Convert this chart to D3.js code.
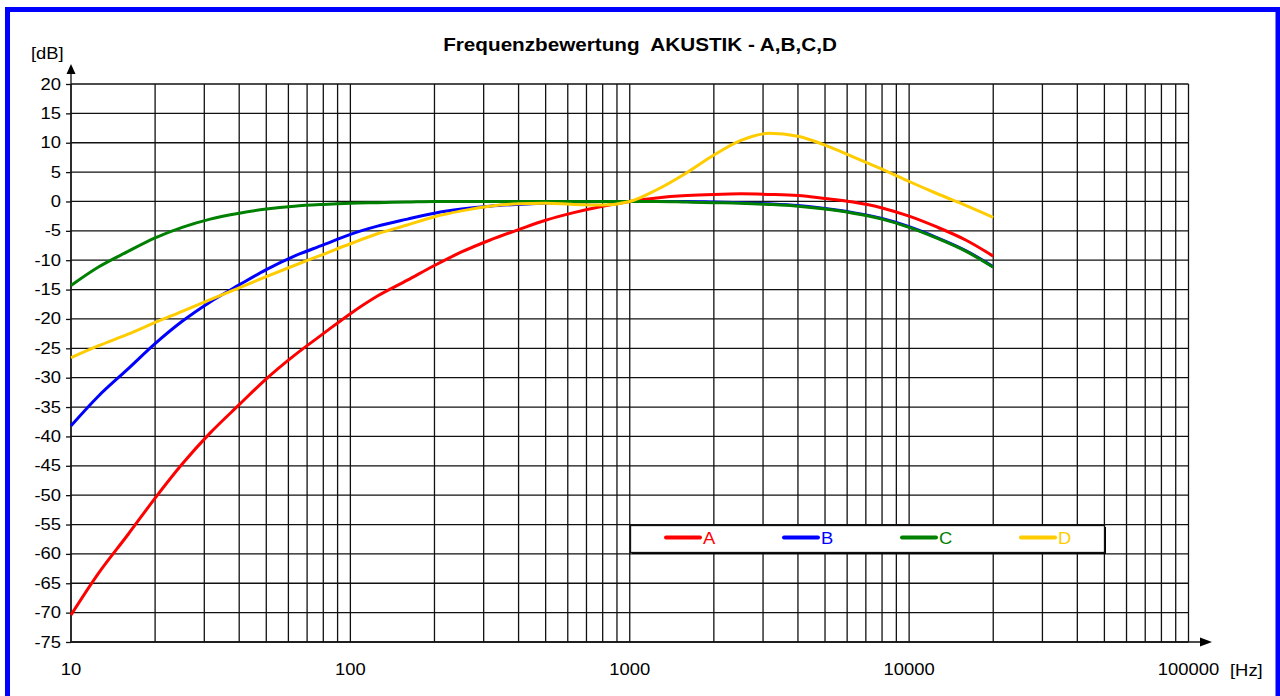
<!DOCTYPE html>
<html>
<head>
<meta charset="utf-8">
<script src="https://cdn.jsdelivr.net/npm/d3@7"></script>
<style>
  body { margin: 0; background: #fff; }
  svg { display: block; font-family: "Liberation Sans", Arial, sans-serif; }
</style>
</head>
<body>
<div id="chart"></div>
<script>
// frequencies (Hz), third-octave bands
var freqs = [10, 12.5, 16, 20, 25, 31.5, 40, 50, 63, 80, 100, 125, 160, 200, 250, 315, 400, 500, 630, 800,
  1000, 1250, 1600, 2000, 2500, 3150, 4000, 5000, 6300, 8000, 10000, 12500, 16000, 20000];

var seriesA = [-70.4, -63.4, -56.7, -50.5, -44.7, -39.4, -34.6, -30.2, -26.2, -22.5, -19.1, -16.1, -13.4, -10.9, -8.6, -6.6, -4.8, -3.2, -1.9, -0.8,
  0, 0.6, 1.0, 1.2, 1.3, 1.2, 1.0, 0.5, -0.1, -1.1, -2.5, -4.3, -6.6, -9.3];
var seriesB = [-38.2, -33.2, -28.5, -24.2, -20.4, -17.1, -14.2, -11.6, -9.3, -7.4, -5.6, -4.2, -3.0, -2.0, -1.3, -0.8, -0.5, -0.3, -0.1, 0,
  0, 0, 0, -0.1, -0.2, -0.4, -0.7, -1.2, -1.9, -2.9, -4.3, -6.1, -8.4, -11.1];
var seriesC = [-14.3, -11.2, -8.5, -6.2, -4.4, -3.0, -2.0, -1.3, -0.8, -0.5, -0.3, -0.2, -0.1, 0, 0, 0, 0, 0, 0, 0,
  0, 0, -0.1, -0.2, -0.3, -0.5, -0.8, -1.3, -2.0, -3.0, -4.4, -6.2, -8.5, -11.2];
var seriesD = [-26.6, -24.6, -22.6, -20.6, -18.7, -16.7, -14.7, -12.8, -10.9, -9.0, -7.2, -5.5, -4.0, -2.6, -1.6, -0.8, -0.4, -0.3, -0.5, -0.6,
  0, 2.0, 4.9, 7.9, 10.4, 11.6, 11.1, 9.6, 7.6, 5.5, 3.4, 1.4, -0.7, -2.7];

var seriesNames = ["A", "B", "C", "D"];
var seriesColors = ["#ff0000", "#0000ff", "#008000", "#ffcc00"];

var yTicks = d3.range(-75, 21, 5);
var xLabels = [10, 100, 1000, 10000, 100000];

var width = 1280, height = 696;
var SX = 1.15; // text in the picture is drawn a bit wide

var svg = d3.select("#chart").append("svg")
  .attr("width", width)
  .attr("height", height);

var x = d3.scaleLog().domain([10, 100000]).range([71, 1188.5]);
var y = d3.scaleLinear().domain([-75, 20]).range([642, 84]);

function label(sel, tx, ty, str, size, anchor, color, weight) {
  return sel.append("text")
    .attr("transform", "translate(" + tx + "," + ty + ") scale(" + SX + ",1)")
    .attr("text-anchor", anchor)
    .style("font-size", size + "px")
    .style("font-weight", weight || "normal")
    .style("fill", color || "#000")
    .text(str);
}

// frame
svg.append("rect")
  .attr("x", 7.5).attr("y", 9.5)
  .attr("width", 1270.5).attr("height", 720)
  .attr("fill", "none")
  .attr("stroke", "#0000ff")
  .attr("stroke-width", 5);

// grid lines
var gridX = [];
[10, 100, 1000, 10000].forEach(function(p) {
  for (var k = 1; k < 10; k++) gridX.push(p * k);
});
gridX.push(100000);

var grid = svg.append("g").attr("class", "grid");
grid.selectAll("line.v")
  .data(gridX)
  .enter().append("line")
  .attr("x1", function(d) { return x(d); })
  .attr("x2", function(d) { return x(d); })
  .attr("y1", y(20)).attr("y2", y(-75))
  .attr("stroke", "#111").attr("stroke-width", 1.3);

grid.selectAll("line.h")
  .data(yTicks)
  .enter().append("line")
  .attr("x1", x(10)).attr("x2", x(100000))
  .attr("y1", function(d) { return y(d); })
  .attr("y2", function(d) { return y(d); })
  .attr("stroke", "#111").attr("stroke-width", 1.3);

// y axis with ticks
var yAxis = svg.append("g")
  .attr("transform", "translate(" + x(10) + ",0)")
  .call(d3.axisLeft(y).tickValues(yTicks).tickSize(5).tickFormat(""));
yAxis.select(".domain").remove();
yAxis.selectAll(".tick line").attr("stroke", "#111").attr("stroke-width", 1.3);

yTicks.forEach(function(v) {
  label(svg, 61, y(v) + 5.5, v, 16, "end");
});

// axis arrows
svg.append("line")
  .attr("x1", x(10)).attr("x2", x(10))
  .attr("y1", y(-75)).attr("y2", 70)
  .attr("stroke", "#111").attr("stroke-width", 1.3);
svg.append("path")
  .attr("d", "M" + x(10) + ",64 L" + (x(10) - 4.5) + ",74 L" + (x(10) + 4.5) + ",74 Z")
  .attr("fill", "#000");
svg.append("line")
  .attr("x1", x(10)).attr("x2", 1204)
  .attr("y1", y(-75)).attr("y2", y(-75))
  .attr("stroke", "#111").attr("stroke-width", 1.3);
svg.append("path")
  .attr("d", "M1212," + y(-75) + " L1200," + (y(-75) - 4.5) + " L1200," + (y(-75) + 4.5) + " Z")
  .attr("fill", "#000");

xLabels.forEach(function(v) {
  label(svg, x(v), 675, v, 16, "middle");
});
label(svg, 1230, 676, "[Hz]", 16, "start");
label(svg, 31, 59, "[dB]", 16, "start");

// title
label(svg, 640, 51, "Frequenzbewertung  AKUSTIK - A,B,C,D", 18, "middle", "#000", "bold")
  .style("white-space", "pre").attr("xml:space", "preserve");

// curves
var line = d3.line()
  .x(function(d) { return x(d[0]); })
  .y(function(d) { return y(d[1]); })
  .curve(d3.curveMonotoneX);

var allSeries = [seriesA, seriesB, seriesC, seriesD];
svg.append("g").selectAll("path")
  .data(allSeries)
  .enter().append("path")
  .attr("d", function(s) { return line(s.map(function(v, i) { return [freqs[i], v]; })); })
  .attr("fill", "none")
  .attr("stroke", function(d, i) { return seriesColors[i]; })
  .attr("stroke-width", 3)
  .attr("stroke-linejoin", "round");

// legend
var lg = svg.append("g");
lg.append("rect")
  .attr("x", 632).attr("y", 527)
  .attr("width", 474).attr("height", 27)
  .attr("fill", "#000");
lg.append("rect")
  .attr("x", 630.5).attr("y", 525.5)
  .attr("width", 474).attr("height", 27)
  .attr("fill", "#fff")
  .attr("stroke", "#111").attr("stroke-width", 1.3);

var legendX = [666, 784, 902, 1021];
seriesNames.forEach(function(n, i) {
  lg.append("line")
    .attr("x1", legendX[i]).attr("x2", legendX[i] + 34)
    .attr("y1", 537.5).attr("y2", 537.5)
    .attr("stroke", seriesColors[i])
    .attr("stroke-width", 4)
    .attr("stroke-linecap", "round");
  label(lg, legendX[i] + 37, 544, n, 16, "start", seriesColors[i]);
});
</script>
</body>
</html>
